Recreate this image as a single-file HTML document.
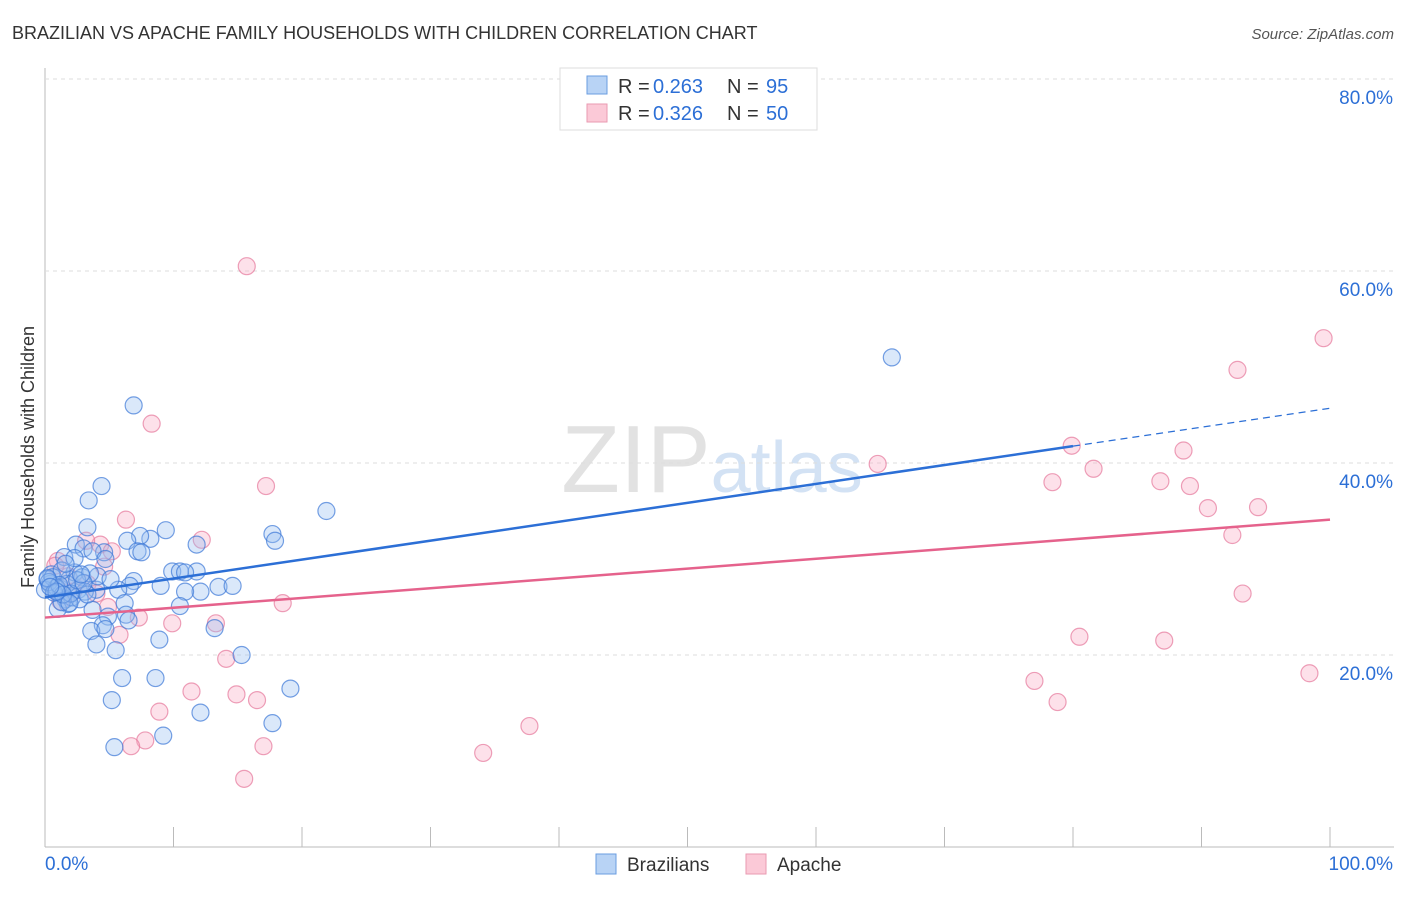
<!DOCTYPE html>
<html><head><meta charset="utf-8"><style>
body{margin:0;background:#fff;font-family:"Liberation Sans",sans-serif;}
svg text{font-family:"Liberation Sans",sans-serif;}
</style></head><body>
<svg id="chart" width="1406" height="892">
<text x="12" y="39" font-size="18" fill="#333">BRAZILIAN VS APACHE FAMILY HOUSEHOLDS WITH CHILDREN CORRELATION CHART</text>
<text x="1394" y="39" font-size="15" fill="#555" font-style="italic" text-anchor="end">Source: ZipAtlas.com</text>
<text x="712" y="492" font-size="96" fill="#e2e2e2" text-anchor="middle" font-family="Liberation Serif">ZIP<tspan fill="#d3e2f4" font-family="Liberation Sans" font-size="72">atlas</tspan></text>
<text transform="translate(34,457) rotate(-90)" font-size="18" fill="#333" text-anchor="middle">Family Households with Children</text>
<g id="grid"></g><g id="marks"></g>
<g>
<rect x="560" y="68" width="257" height="62" fill="#fff" stroke="#ddd"/>
<rect x="587" y="76" width="20" height="18" fill="#b8d3f5" stroke="#6a9de0"/>
<rect x="587" y="104" width="20" height="18" fill="#fbc9d7" stroke="#e99ab2"/>
<text x="618" y="93" font-size="20" fill="#333">R =</text><text x="653" y="93" font-size="20" fill="#2c6fd6">0.263</text>
<text x="727" y="93" font-size="20" fill="#333">N =</text><text x="766" y="93" font-size="20" fill="#2c6fd6">95</text>
<text x="618" y="120" font-size="20" fill="#333">R =</text><text x="653" y="120" font-size="20" fill="#2c6fd6">0.326</text>
<text x="727" y="120" font-size="20" fill="#333">N =</text><text x="766" y="120" font-size="20" fill="#2c6fd6">50</text>
</g>
<g>
<rect x="596" y="854" width="20" height="20" fill="#b8d3f5" stroke="#6a9de0"/>
<text x="627" y="871" font-size="19" fill="#333">Brazilians</text>
<rect x="746" y="854" width="20" height="20" fill="#fbc9d7" stroke="#e99ab2"/>
<text x="777" y="871" font-size="19" fill="#333">Apache</text>
</g>
</svg>
<script>
const yTicks=[20,40,60,80];
const xLabels=["0.0%","100.0%"];
const blueX=[6.9,4.4,3.4,3.3,21.9,65.9,17.7,17.9,9.4,8.2,7.4,6.4,7.2,7.5,11.8,2.4,3.0,4.6,3.7,1.5,4.7,9.9,10.5,11.8,10.9,6.9,6.6,5.7,9.0,13.5,14.6,12.1,10.9,10.5,6.2,4.0,6.3,6.5,4.9,3.7,4.5,3.6,4.7,4.0,5.5,8.9,15.3,13.2,6.0,8.6,19.1,5.2,17.7,12.1,9.2,5.4,0.5,0.4,0.8,1.2,0.2,1.9,2.3,2.9,1.6,1.8,2.1,2.6,3.1,1.0,1.3,0.0,0.6,1.7,2.7,3.3,0.9,1.3,2.3,4.1,5.1,3.5,1.6,0.3,0.7,1.1,2.0,2.5,1.4,0.2,0.9,3.0,1.9,0.4,2.8];
const blueY=[46.0,37.6,36.1,33.3,35.0,51.0,32.6,31.9,33.0,32.1,32.4,31.9,30.8,30.7,31.5,31.5,31.1,30.7,30.8,30.2,30.0,28.7,28.7,28.7,28.6,27.7,27.2,26.8,27.2,27.1,27.2,26.6,26.6,25.1,25.4,26.8,24.2,23.6,24.0,24.7,23.1,22.5,22.7,21.1,20.5,21.6,20.0,22.8,17.6,17.6,16.5,15.3,12.9,14.0,11.6,10.4,28.4,27.4,26.7,26.9,27.9,27.9,28.6,28.1,25.8,25.3,26.0,26.8,26.6,24.8,25.5,26.8,28.1,27.4,25.8,26.3,27.0,28.8,30.1,28.2,27.9,28.5,29.5,27.6,26.5,27.3,26.4,27.8,26.3,28.0,26.6,27.5,25.4,27.1,28.4];
const pinkX=[15.7,8.3,17.2,6.3,12.2,4.3,3.2,5.2,3.3,4.6,1.0,0.8,1.8,2.2,1.2,4.0,7.3,4.9,9.9,18.5,13.3,5.8,14.1,11.4,14.9,16.5,8.9,7.8,6.7,17.0,15.5,34.1,37.7,64.8,79.9,81.6,78.4,86.8,89.1,88.6,90.5,94.4,92.4,93.2,80.5,87.1,77.0,78.8,98.4,99.5,92.8];
const pinkY=[60.5,44.1,37.6,34.1,32.0,31.5,31.9,30.8,27.4,29.2,29.8,29.3,28.2,26.6,25.6,26.4,23.9,25.0,23.3,25.4,23.3,22.1,19.6,16.2,15.9,15.3,14.1,11.1,10.5,10.5,7.1,9.8,12.6,39.9,41.8,39.4,38.0,38.1,37.6,41.3,35.3,35.4,32.5,26.4,21.9,21.5,17.3,15.1,18.1,53.0,49.7];
const blueFit=[26.0,45.7];
const pinkFit=[23.9,34.1];
const X0=45,X1=1330,Y0=847,YS=9.6;
const sx=v=>X0+(X1-X0)*v/100, sy=v=>Y0-v*YS;
const NS="http://www.w3.org/2000/svg";
const grid=document.getElementById('grid'),marks=document.getElementById('marks');
function mk(tag,at,par){const e=document.createElementNS(NS,tag);for(const k in at)e.setAttribute(k,at[k]);par.appendChild(e);return e;}
let ax=mk('line',{x1:45,y1:68,x2:45,y2:847,stroke:'#bbb'},grid);


let bx=mk('line',{x1:45,y1:847,x2:1394,y2:847,stroke:'#bbb'},grid);


yTicks.forEach(t=>{
 const l=mk('line',{x1:45,x2:1394,y1:sy(t),y2:sy(t),stroke:'#ddd','stroke-dasharray':'4,4'},grid);
 
 
 const tx=mk('text',{x:1393,y:sy(t)+25,'font-size':19,fill:'#2c6fd6','text-anchor':'end'},grid);tx.textContent=t.toFixed(1)+'%';
 
 
});
for(let i=1;i<=10;i++){const x=sx(i*10);const l=mk('line',{x1:x,x2:x,y1:827,y2:847,stroke:'#bbb'},grid);
 
 }
[[0,'start',45],[1,'end',1393]].forEach(([i,a,x])=>{const t=mk('text',{x:x,y:870,'font-size':19,fill:'#2c6fd6','text-anchor':a},grid);t.textContent=xLabels[i];
 
 });
pinkX.forEach((v,i)=>{const c=mk('circle',{cx:sx(v),cy:sy(pinkY[i]),r:8.5,fill:'rgba(248,170,195,0.35)',stroke:'rgba(230,120,155,0.7)','stroke-width':1.2},marks);
 
 });
blueX.forEach((v,i)=>{const c=mk('circle',{cx:sx(v),cy:sy(blueY[i]),r:8.5,fill:'rgba(150,190,240,0.35)',stroke:'rgba(60,120,215,0.7)','stroke-width':1.2},marks);
 
 });
const bAt=x=>blueFit[0]+(blueFit[1]-blueFit[0])*x/100;
let bl=mk('line',{x1:sx(0),y1:sy(bAt(0)),x2:sx(80),y2:sy(bAt(80)),stroke:'#2c6fd6','stroke-width':2.5},marks);


let bd=mk('line',{x1:sx(80),y1:sy(bAt(80)),x2:sx(100),y2:sy(bAt(100)),stroke:'#2c6fd6','stroke-width':1.3,'stroke-dasharray':'7,5'},marks);


let pl=mk('line',{x1:sx(0),y1:sy(pinkFit[0]),x2:sx(100),y2:sy(pinkFit[1]),stroke:'#e5628c','stroke-width':2.5},marks);


</script>
</body></html>
